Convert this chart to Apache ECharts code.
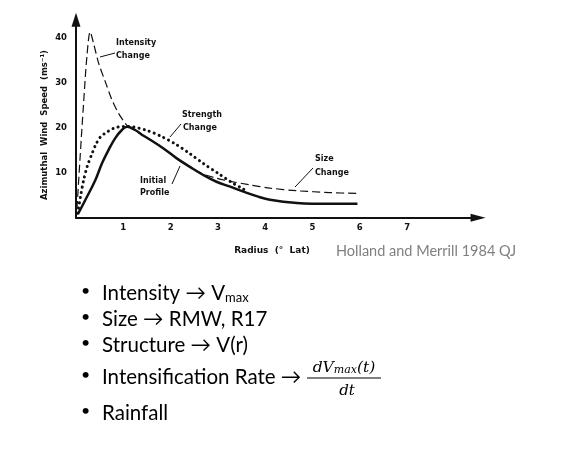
<!DOCTYPE html>
<html>
<head>
<meta charset="utf-8">
<script src="https://cdn.jsdelivr.net/npm/echarts@6/dist/echarts.min.js"></script>
<style>
html,body{margin:0;padding:0;background:#fff;}
#chart{width:566px;height:465px;}
</style>
</head>
<body>
<div id="chart"></div>
<script>
// ---- Data ----
const radiusInitial = [0.04, 0.2, 0.41, 0.55, 0.69, 0.83, 0.97, 1.08, 1.25, 1.4, 1.56, 1.85, 2.13, 2.41, 2.69, 2.97, 3.26, 3.54, 3.82, 4.1, 4.67, 5.37, 5.95];
const windInitial   = [0.8, 4.0, 8.4, 12.1, 15.1, 17.7, 19.5, 20.2, 19.5, 18.4, 17.4, 15.4, 13.2, 11.3, 9.5, 8.0, 6.9, 5.8, 4.8, 4.0, 3.3, 3.1, 3.1];

const radiusStrength = [0.03, 0.05, 0.1, 0.16, 0.24, 0.33, 0.42, 0.52, 0.62, 0.8, 1.0, 1.2, 1.5, 1.8, 2.1, 2.4, 2.7, 3.0, 3.3, 3.5, 3.62];
const windStrength   = [1.0, 2.0, 5.0, 8.3, 11.5, 14.0, 16.3, 18.0, 18.8, 19.9, 20.3, 20.2, 19.4, 18.1, 16.4, 14.3, 12.0, 9.9, 7.8, 6.6, 5.9];

const radiusIntensitySize = [0.02, 0.09, 0.16, 0.23, 0.30, 0.37, 0.48, 0.62, 0.76, 0.90, 1.04, 1.11, 1.25, 1.4, 1.56, 1.85, 2.13, 2.41, 2.69, 2.97, 3.26, 3.68, 4.1, 4.67, 5.37, 5.95];
const windIntensitySize   = [2.0, 14.0, 25.4, 35.8, 41.3, 38.8, 34.3, 30.2, 26.2, 23.2, 21.0, 20.2, 19.5, 18.4, 17.4, 15.4, 13.2, 11.3, 9.7, 8.8, 8.1, 7.3, 6.6, 6.0, 5.6, 5.4];

const yTickLabels = [10, 20, 30, 40];
const xTickLabels = [1, 2, 3, 4, 5, 6, 7];

const pairs = (xs, ys) => xs.map((x, i) => [x, ys[i]]);

const figFont = 'DejaVu Sans';
const ink = '#111';
const bulletFont = 'Lato';

const chart = echarts.init(document.getElementById('chart'), null, {renderer: 'canvas'});

function annText(x, y, text) {
  return {type: 'text', x: x, y: y, style: {text: text, fill: ink, font: 'bold 8px "DejaVu Sans"', textVerticalAlign: 'middle', textAlign: 'left'}};
}
function leader(x1, y1, x2, y2) {
  return {type: 'line', shape: {x1: x1, y1: y1, x2: x2, y2: y2}, style: {stroke: ink, lineWidth: 1}};
}
function bullet(y) {
  return {type: 'text', x: 81, y: y, style: {text: '•', fill: '#000', font: '16px "' + bulletFont + '"', textVerticalAlign: 'middle', textAlign: 'left'}};
}
function bulletText(y, rich, text) {
  return {type: 'text', x: 102, y: y, style: {text: text, rich: rich, fill: '#000', fontFamily: bulletFont, fontSize: 20, verticalAlign: 'middle', align: 'left'}};
}

const mainRich = {
  m: {fontFamily: bulletFont, fontSize: 20.5, lineHeight: 26, verticalAlign: 'bottom', fill: '#000'},
  s: {fontFamily: bulletFont, fontSize: 13, lineHeight: 22, verticalAlign: 'bottom', fill: '#000'}
};
const fracRich = {
  i: {fontFamily: 'DejaVu Serif', fontStyle: 'italic', fontSize: 15.5, lineHeight: 19, verticalAlign: 'bottom', fill: '#000'},
  s: {fontFamily: 'DejaVu Serif', fontStyle: 'italic', fontSize: 11, lineHeight: 15, verticalAlign: 'bottom', fill: '#000'}
};

const option = {
  backgroundColor: '#fff',
  animation: false,
  grid: {left: 76, top: 19.75, right: 87.95, bottom: 247.25, containLabel: false, outerBoundsMode: 'none'},
  xAxis: {
    type: 'value', min: 0, max: 8.5, interval: 1,
    axisLine: {show: true, onZero: false, lineStyle: {color: ink, width: 2}, symbol: ['none', 'triangle'], symbolSize: [8, 15]},
    axisTick: {show: false}, splitLine: {show: false},
    axisLabel: {margin: 6, color: ink, fontFamily: figFont, fontWeight: 'bold', fontSize: 8.5,
      formatter: v => xTickLabels.indexOf(v) >= 0 ? String(v) : ''}
  },
  yAxis: {
    type: 'value', min: 0, max: 44, interval: 10,
    axisLine: {show: true, onZero: false, lineStyle: {color: ink, width: 2}, symbol: ['none', 'triangle'], symbolSize: [9, 14]},
    axisTick: {show: false}, splitLine: {show: false},
    axisLabel: {margin: 9, color: ink, fontFamily: figFont, fontWeight: 'bold', fontSize: 8.5,
      formatter: v => yTickLabels.indexOf(v) >= 0 ? String(v) : ''}
  },
  series: [
    {name: 'Intensity / Size Change', type: 'line', data: pairs(radiusIntensitySize, windIntensitySize), smooth: 0.3, showSymbol: false,
      lineStyle: {color: ink, width: 1.2, type: [8, 4]}},
    {name: 'Strength Change', type: 'line', data: pairs(radiusStrength, windStrength), smooth: 0.3, showSymbol: false,
      lineStyle: {color: ink, width: 3, type: [0.1, 5.2], cap: 'round'}},
    {name: 'Initial Profile', type: 'line', data: pairs(radiusInitial, windInitial), smooth: 0.4, showSymbol: false,
      lineStyle: {color: ink, width: 2.5}}
  ],
  graphic: [
    // axis titles
    {type: 'text', x: 45, y: 125, rotation: Math.PI / 2,
      style: {text: 'Azimuthal  Wind  Speed  (ms\u207B\u00B9)', fill: ink, font: 'bold 8.5px "DejaVu Sans"', textAlign: 'center', textVerticalAlign: 'middle'}},
    {type: 'text', x: 272, y: 251,
      style: {text: 'Radius  (°  Lat)', fill: ink, font: 'bold 9px "DejaVu Sans"', textAlign: 'center', textVerticalAlign: 'middle'}},
    {type: 'text', x: 336, y: 251,
      style: {text: 'Holland and Merrill 1984 QJ', fill: '#808080', font: '14.5px "Lato"', textAlign: 'left', textVerticalAlign: 'middle'}},
    // annotations
    annText(116, 43, 'Intensity'), annText(116, 56, 'Change'), leader(100, 57, 115, 53),
    annText(182, 115, 'Strength'), annText(183, 128, 'Change'), leader(170, 137, 181, 124),
    annText(140, 181, 'Initial'), annText(140, 193, 'Profile'), leader(172, 184, 180, 166),
    annText(315, 159, 'Size'), annText(315, 173, 'Change'), leader(295, 187, 313, 168),
    // bullets
    bullet(291), bulletText(291, mainRich, '{m|Intensity \u2192 V}{s|max}'),
    bullet(317), bulletText(317, mainRich, '{m|Size \u2192 RMW, R17}'),
    bullet(343), bulletText(343, mainRich, '{m|Structure \u2192 V(r)}'),
    bullet(375), bulletText(375, mainRich, '{m|Intensification Rate \u2192}'),
    {type: 'text', x: 344, y: 366, style: {text: '{i|dV}{s|max}{i|(t)}', rich: fracRich, fill: '#000', align: 'center', verticalAlign: 'middle'}},
    {type: 'line', shape: {x1: 307, y1: 378, x2: 381, y2: 378}, style: {stroke: '#000', lineWidth: 1}},
    {type: 'text', x: 347, y: 391, style: {text: 'dt', fill: '#000', font: 'italic 15px "DejaVu Serif"', textAlign: 'center', textVerticalAlign: 'middle'}},
    bullet(411), bulletText(411, mainRich, '{m|Rainfall}')
  ]
};
chart.setOption(option);
</script>
</body>
</html>
